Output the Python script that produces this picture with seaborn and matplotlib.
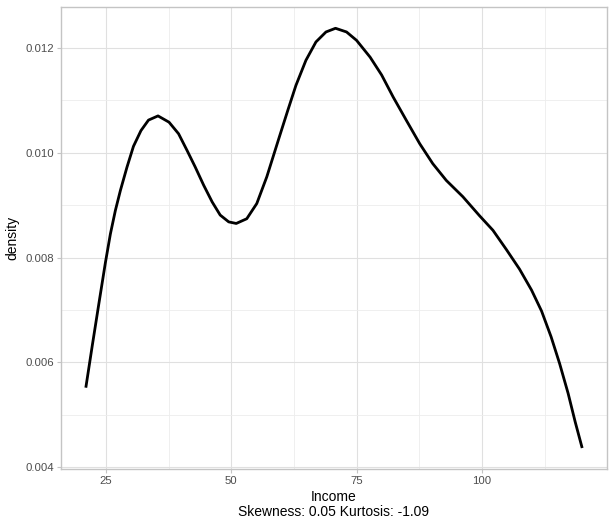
import matplotlib
matplotlib.use("Agg")
import matplotlib.pyplot as plt
import seaborn as sns
import pandas as pd

# Values
income = [21.0, 22.3, 23.6, 24.9, 25.9, 26.9, 27.9, 29.2, 30.5, 32.0, 33.5, 35.4,
          37.6, 39.5, 41.2, 42.8, 44.5, 46.2, 47.8, 49.5, 51.0, 53.1, 55.1, 57.1,
          59.6, 61.3, 62.9, 64.9, 66.9, 68.9, 70.8, 73.0, 75.0, 77.7, 80.0, 82.3,
          84.9, 87.6, 90.2, 92.9, 96.2, 99.5, 102.2, 104.9, 107.5, 109.9, 111.9,
          113.8, 115.5, 117.2, 118.6, 120.0]
density = [0.00552, 0.00633, 0.00712, 0.00790, 0.00845, 0.00890, 0.00928, 0.00972,
           0.01012, 0.01042, 0.01062, 0.01070, 0.01058, 0.01036, 0.01004, 0.00973,
           0.00938, 0.00906, 0.00881, 0.00868, 0.00865, 0.00874, 0.00903, 0.00954,
           0.01030, 0.01081, 0.01128, 0.01176, 0.01211, 0.01230, 0.01237, 0.01230,
           0.01214, 0.01182, 0.01148, 0.01106, 0.01062, 0.01017, 0.00979, 0.00947,
           0.00916, 0.00880, 0.00852, 0.00815, 0.00778, 0.00738, 0.00698, 0.00649,
           0.00598, 0.00541, 0.00487, 0.00437]

x_ticks = [25, 50, 75, 100]
x_minor = [37.5, 62.5, 87.5, 112.5]
y_ticks = [0.004, 0.006, 0.008, 0.010, 0.012]
y_tick_labels = ["0.004", "0.006", "0.008", "0.010", "0.012"]
y_minor = [0.005, 0.007, 0.009, 0.011]
x_label = "Income\nSkewness: 0.05 Kurtosis: -1.09"
y_label = "density"

df = pd.DataFrame({"Income": income, "density": density})

sns.set_theme(style="white")
plt.rcParams["font.family"] = ["Liberation Sans", "DejaVu Sans"]

fig = plt.figure(figsize=(6.15, 5.29), dpi=100)
ax = fig.add_axes([61 / 615, 1 - 469 / 529, (607 - 61) / 615, (469 - 7.3) / 529])

sns.lineplot(data=df, x="Income", y="density", color="black", linewidth=2.0, ax=ax,
             zorder=3, solid_joinstyle="round", solid_capstyle="butt")

xmin, xmax = min(income), max(income)
ymin, ymax = min(density), max(density)
xr, yr = xmax - xmin, ymax - ymin
ax.set_xlim(xmin - 0.05 * xr, xmax + 0.05 * xr)
ax.set_ylim(ymin - 0.05 * yr, ymax + 0.05 * yr)

ax.set_xticks(x_ticks)
ax.set_xticklabels([str(t) for t in x_ticks])
ax.set_xticks(x_minor, minor=True)
ax.set_yticks(y_ticks)
ax.set_yticklabels(y_tick_labels)
ax.set_yticks(y_minor, minor=True)

ax.grid(which="major", color="#E0E0E0", linewidth=0.8)
ax.grid(which="minor", color="#EDEDED", linewidth=0.6)
ax.set_axisbelow(True)

for s in ax.spines.values():
    s.set_color("#C4C4C4")
    s.set_linewidth(1.0)

ax.tick_params(axis="both", which="major", length=3, width=0.8, color="#C4C4C4",
               labelsize=8.2, labelcolor="#4D4D4D", pad=2, left=True, bottom=True)
ax.tick_params(axis="both", which="minor", length=0)

ax.set_xlabel(x_label, fontsize=10, color="black", labelpad=3, linespacing=1.05)
ax.set_ylabel(y_label, fontsize=10, color="black", labelpad=4)

fig.savefig("out.png", dpi=100)
